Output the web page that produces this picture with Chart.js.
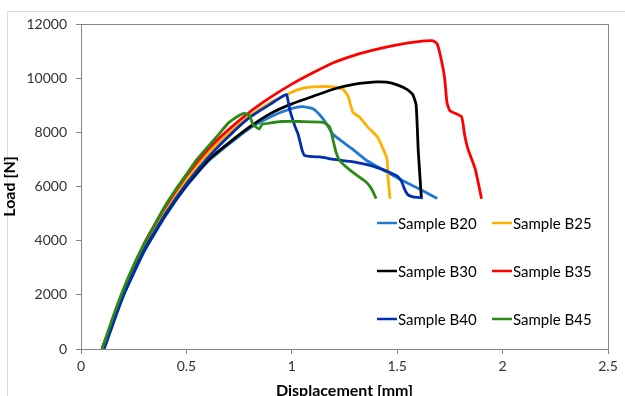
<!DOCTYPE html>
<html>
<head>
<meta charset="utf-8">
<script src="https://cdn.jsdelivr.net/npm/chart.js@4.4.1/dist/chart.umd.min.js"></script>
<style>
    html, body { margin: 0; padding: 0; background: #fff; overflow: hidden; }
    #wrap { position: relative; width: 625px; height: 396px; }
    #frame { position: absolute; left: 7px; top: 11px; width: 700px; height: 500px; border: 1px solid #d9d9d9; }
    canvas { position: absolute; left: 0; top: 0; }
</style>
</head>
<body>
<div id="wrap">
    <div id="frame"></div>
    <canvas id="loadChart" width="625" height="396"></canvas>
</div>
<script>
// Load-displacement curves
const seriesNames = ['Sample B20', 'Sample B25', 'Sample B30', 'Sample B35', 'Sample B40', 'Sample B45'];
const seriesColors = ['#1F78D2', '#FFB000', '#000000', '#FF0000', '#0030B0', '#2A8A14'];

const xTicks = [0, 0.5, 1, 1.5, 2, 2.5];
const yTicks = [0, 2000, 4000, 6000, 8000, 10000, 12000];

const b20X = [0.1, 0.2, 0.3, 0.4, 0.5, 0.6, 0.7, 0.8, 0.9, 1.0, 1.05, 1.1, 1.13, 1.16, 1.195, 1.245, 1.29, 1.357, 1.45, 1.51, 1.61, 1.69];
const b20Y = [0, 1950, 3600, 4900, 6000, 6900, 7550, 8150, 8580, 8880, 8950, 8870, 8670, 8370, 7930, 7630, 7370, 6950, 6540, 6280, 5890, 5560];

const b25X = [0.1, 0.2, 0.3, 0.4, 0.5, 0.6, 0.7, 0.8, 0.9, 1.0, 1.05, 1.1, 1.2, 1.243, 1.267, 1.29, 1.323, 1.357, 1.404, 1.428, 1.452, 1.456, 1.466];
const b25Y = [0, 2100, 3800, 5150, 6250, 7200, 7950, 8600, 9100, 9480, 9620, 9680, 9680, 9590, 9330, 8740, 8550, 8220, 7850, 7480, 7000, 6370, 5550];

const b30X = [0.1, 0.2, 0.3, 0.4, 0.5, 0.6, 0.7, 0.8, 0.9, 1.0, 1.1, 1.2, 1.3, 1.4, 1.45, 1.5, 1.55, 1.575, 1.59, 1.6, 1.615];
const b30Y = [0, 2000, 3650, 4950, 6050, 6950, 7600, 8200, 8700, 9050, 9330, 9600, 9780, 9860, 9850, 9750, 9570, 9380, 9000, 7300, 5550];

const b35X = [0.1, 0.2, 0.3, 0.4, 0.5, 0.6, 0.7, 0.8, 0.9, 1.0, 1.1, 1.2, 1.3, 1.4, 1.5, 1.6, 1.67, 1.69, 1.71, 1.725, 1.736, 1.75, 1.805, 1.82, 1.835, 1.87, 1.9];
const b35Y = [0, 2150, 3900, 5250, 6400, 7350, 8100, 8750, 9300, 9780, 10200, 10580, 10850, 11060, 11230, 11350, 11380, 11260, 10650, 10000, 9100, 8800, 8580, 7900, 7400, 6650, 5550];

const b40X = [0.11, 0.2, 0.3, 0.4, 0.5, 0.6, 0.7, 0.8, 0.9, 0.95, 0.975, 0.99, 1.015, 1.03, 1.048, 1.06, 1.1, 1.134, 1.2, 1.276, 1.357, 1.43, 1.47, 1.5, 1.52, 1.535, 1.55, 1.575, 1.62];
const b40Y = [0, 1950, 3650, 4980, 6100, 7050, 7850, 8550, 9050, 9300, 9400, 8850, 8220, 7930, 7370, 7150, 7100, 7090, 7000, 6930, 6810, 6630, 6500, 6380, 6200, 5900, 5700, 5620, 5580];

const b45X = [0.1, 0.15, 0.2, 0.25, 0.3, 0.35, 0.4, 0.45, 0.5, 0.55, 0.6, 0.65, 0.7, 0.75, 0.775, 0.8, 0.815, 0.845, 0.86, 0.9, 0.95, 1.04, 1.15, 1.18, 1.195, 1.21, 1.23, 1.29, 1.355, 1.38, 1.4];
const b45Y = [0, 1150, 2190, 3100, 3880, 4600, 5300, 5900, 6450, 7000, 7450, 7900, 8350, 8620, 8700, 8620, 8300, 8120, 8300, 8350, 8400, 8400, 8370, 8190, 7740, 7260, 6930, 6520, 6150, 5890, 5550];

const seriesX = [b20X, b25X, b30X, b35X, b40X, b45X];
const seriesY = [b20Y, b25Y, b30Y, b35Y, b40Y, b45Y];

const FONT = 'Lato, "Open Sans", sans-serif';

// frame round the plot area (top and right sides too)
const plotFrame = {
    id: 'plotFrame',
    afterDatasetsDraw(chart) {
        const { ctx, chartArea: a } = chart;
        ctx.save();
        ctx.strokeStyle = '#868686';
        ctx.lineWidth = 1;
        ctx.strokeRect(Math.round(a.left) + 0.5, Math.round(a.top) + 0.5, Math.round(a.right - a.left), Math.round(a.bottom - a.top));
        ctx.restore();
    }
};

// legend inside the plot, 2 columns x 3 rows
const gridLegend = {
    id: 'gridLegend',
    afterDraw(chart) {
        const { ctx } = chart;
        const colX = [377, 492];
        const rowY = [223, 271, 319];
        ctx.save();
        ctx.font = '15px ' + FONT;
        ctx.textBaseline = 'middle';
        ctx.fillStyle = '#000';
        seriesNames.forEach((name, i) => {
            const x = colX[i % 2];
            const y = rowY[Math.floor(i / 2)];
            ctx.strokeStyle = seriesColors[i];
            ctx.lineWidth = 2.5;
            ctx.beginPath();
            ctx.moveTo(x, y);
            ctx.lineTo(x + 20, y);
            ctx.stroke();
            ctx.fillText(name, x + 21, y + 1);
        });
        ctx.restore();
    }
};

const datasets = seriesNames.map((name, i) => ({
    label: name,
    data: seriesX[i].map((x, j) => ({ x: x, y: seriesY[i][j] })),
    borderColor: seriesColors[i],
    backgroundColor: seriesColors[i],
    borderWidth: 2.8,
    showLine: true,
    pointRadius: 0,
    tension: 0.15,
    // later series sit on top, as in the original
    order: seriesNames.length - i
}));

const ctx = document.getElementById('loadChart').getContext('2d');
new Chart(ctx, {
    type: 'scatter',
    data: { datasets: datasets },
    options: {
        responsive: false,
        animation: false,
        layout: { padding: { left: 0, top: 24, right: 17, bottom: 0 } },
        plugins: {
            legend: { display: false },
            tooltip: { enabled: false }
        },
        scales: {
            x: {
                type: 'linear',
                min: 0,
                max: 2.5,
                afterBuildTicks: s => { s.ticks = xTicks.map(v => ({ value: v })); },
                afterFit: s => { s.height = 47; },
                ticks: {
                    color: '#333',
                    font: { family: FONT, size: 14 },
                    padding: 4,
                    maxRotation: 0,
                    callback: v => String(v)
                },
                grid: { drawOnChartArea: false, tickLength: 5, color: '#868686' },
                border: { color: '#868686' },
                title: {
                    display: true,
                    text: 'Displacement [mm]',
                    color: '#000',
                    font: { family: FONT, size: 16, weight: 'bold' },
                    padding: { top: 4, bottom: -4 }
                }
            },
            y: {
                type: 'linear',
                min: 0,
                max: 12000,
                afterBuildTicks: s => { s.ticks = yTicks.map(v => ({ value: v })); },
                afterFit: s => { s.width = 81; },
                ticks: {
                    color: '#333',
                    font: { family: FONT, size: 14 },
                    padding: 9,
                    callback: v => String(v)
                },
                grid: { drawOnChartArea: false, tickLength: 5, color: '#868686' },
                border: { color: '#868686' },
                title: {
                    display: true,
                    text: 'Load [N]',
                    color: '#000',
                    font: { family: FONT, size: 16, weight: 'bold' },
                    padding: { top: 0, bottom: 6 }
                }
            }
        }
    },
    plugins: [plotFrame, gridLegend]
});
</script>
</body>
</html>
